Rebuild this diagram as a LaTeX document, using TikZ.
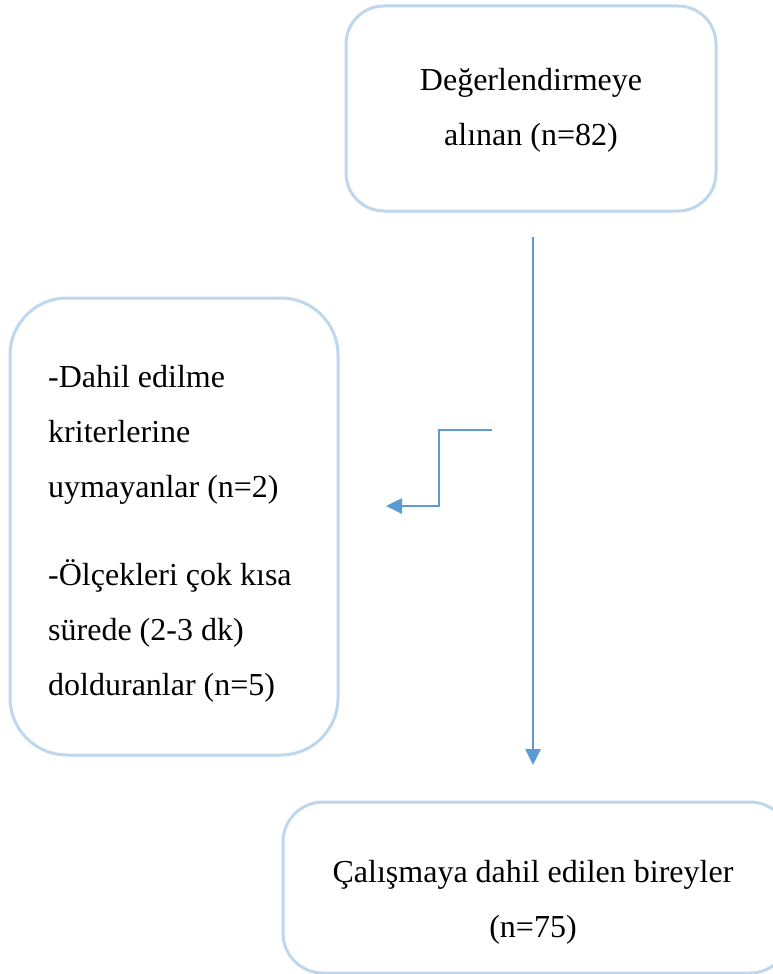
\documentclass[tikz,border=0pt]{standalone}
\usepackage{fontspec}
\setmainfont{Liberation Serif}
\usetikzlibrary{arrows.meta}
\definecolor{boxline}{RGB}{189,215,238}
\definecolor{arrowline}{RGB}{91,155,213}
\begin{document}
\begin{tikzpicture}[x=1pt,y=-1pt,
  boxshape/.style={draw=boxline, line width=3pt, rectangle, inner sep=0pt, fill=none},
  txt/.style={inner sep=0pt, anchor=base, font=\fontsize{32}{38}\selectfont},
  ltxt/.style={inner sep=0pt, anchor=base west, font=\fontsize{32}{38}\selectfont},
  conn/.style={draw=arrowline, line width=2.6pt, -{Triangle[length=16pt,width=15pt]}}]
\useasboundingbox (0,0) rectangle (773,974);
\begin{scope}
\clip (0,0) rectangle (773,974);
% boxes
\node[boxshape, rounded corners=38pt, minimum width=370pt, minimum height=205pt] (top) at (531,108.5) {};
\node[boxshape, rounded corners=57pt, minimum width=328pt, minimum height=457pt] (left) at (174,526.5) {};
\node[boxshape, rounded corners=40pt, minimum width=507pt, minimum height=171pt] (bottom) at (536.5,887.5) {};
\end{scope}
% texts
\node[txt] (t1) at (531,90) {Değerlendirmeye};
\node[txt] (t2) at (531,145) {alınan (n=82)};
\node[ltxt] (l1) at (48,387) {-Dahil edilme};
\node[ltxt] (l2) at (48,442) {kriterlerine};
\node[ltxt] (l3) at (48,497) {uymayanlar (n=2)};
\node[ltxt] (l4) at (48,585) {-Ölçekleri çok kısa};
\node[ltxt] (l5) at (48,640) {sürede (2-3 dk)};
\node[ltxt] (l6) at (48,695) {dolduranlar (n=5)};
\node[txt] (b1) at (533,882) {Çalışmaya dahil edilen bireyler};
\node[txt] (b2) at (533,937) {(n=75)};
% connectors
\coordinate (vs) at (533,237);
\coordinate (ve) at (533,765);
\coordinate (es) at (492,430);
\coordinate (ek) at (439,430);
\coordinate (ee) at (386,506);
\draw[conn] (vs) -- (ve);
\draw[conn] (es) -- (ek) |- (ee);
\end{tikzpicture}
\end{document}
